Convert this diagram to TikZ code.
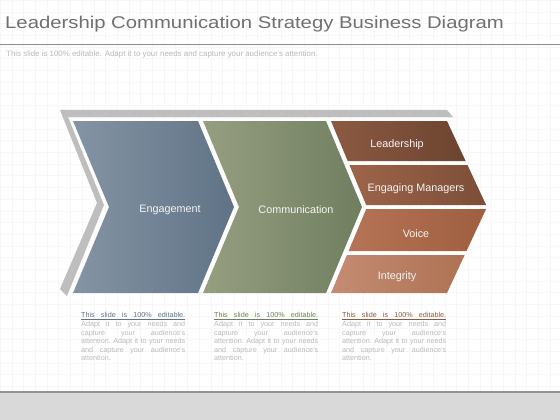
\documentclass[tikz,border=0pt]{standalone}
\usepackage{fontspec}
\setmainfont{Liberation Sans}
\usepackage{tikz}
\usetikzlibrary{positioning}

\definecolor{titleGray}{RGB}{112,112,112}
\definecolor{noteGray}{RGB}{185,185,185}
\definecolor{frameGray}{RGB}{190,190,190}
\definecolor{bandGray}{RGB}{217,217,217}
\definecolor{engageL}{RGB}{132,148,164}
\definecolor{engageR}{RGB}{96,115,134}
\definecolor{commL}{RGB}{150,158,128}
\definecolor{commR}{RGB}{112,126,96}
\definecolor{leadL}{RGB}{140,90,65}
\definecolor{leadR}{RGB}{108,68,48}
\definecolor{mgrL}{RGB}{158,100,74}
\definecolor{mgrR}{RGB}{124,78,55}
\definecolor{voiceL}{RGB}{182,116,86}
\definecolor{voiceR}{RGB}{158,94,64}
\definecolor{integL}{RGB}{196,140,115}
\definecolor{integR}{RGB}{174,114,84}

\tikzset{
  label/.style={text=white!92!gray, font=\fontsize{10.8}{12}\selectfont},
  note/.style={anchor=north west, text width=104pt, align=justify, inner sep=0pt,
    text=noteGray, font=\fontsize{7.2}{8.6}\selectfont\frenchspacing}
}

\newcommand{\notehead}[1]{{\color{#1}\underline{\hbox to 104pt{This\hfill slide\hfill is\hfill 100\%\hfill editable.}}}}
\newcommand{\notebody}{Adapt it to your needs and\linebreak capture your audience's\linebreak attention. Adapt it to your needs\linebreak and capture your audience's\linebreak attention.}

\begin{document}
\begin{tikzpicture}[x=1pt,y=-1pt]
\useasboundingbox (0,0) rectangle (560,420);
\fill[white] (0,0) rectangle (560,420);
\draw[step=11.7pt,black!3,very thin] (0,0) grid (560,392);

% heading
\node[anchor=base west, inner sep=0pt, text=titleGray] (title) at (5,28.5)
  {\scalebox{1.194}[1]{\fontsize{17}{20}\selectfont Leadership Communication Strategy Business Diagram}};
\draw[gray!90, line width=1.2pt] (0,44.5) -- (560,44.5);
\node[anchor=base west, inner sep=0pt, text=noteGray, font=\fontsize{7.9}{9}\selectfont] (subtitle) at (6,56.5)
  {This slide is 100\% editable. Adapt it to your needs and capture your audience's attention.};

% footer
\fill[bandGray] (0,393) rectangle (560,420);
\draw[gray!85, line width=1.5pt] (0,392) -- (560,392);

% grey back frame
\fill[frameGray] (60,110) -- (447,110) -- (453,117) -- (68,117) -- (104,205) -- (67,296)
  -- (60,289) -- (97,203) -- cycle;

% big chevrons
\shade[left color=engageL, right color=engageR] (73,121) -- (198,121) -- (234,207) -- (198,293)
  -- (73,293) -- (109,207) -- cycle;
\shade[left color=commL, right color=commR] (203,121) -- (326,121) -- (362,207) -- (326,293)
  -- (203,293) -- (239,207) -- cycle;

% right strips
\shade[left color=leadL, right color=leadR] (331,121) -- (447,121) -- (465.6,161) -- (347.7,161) -- cycle;
\shade[left color=mgrL, right color=mgrR] (349.4,165) -- (467.5,165) -- (486.1,205) -- (366.2,205) -- cycle;
\shade[left color=voiceL, right color=voiceR] (366.2,209) -- (486.1,209) -- (466.5,251) -- (348.6,251) -- cycle;
\shade[left color=integL, right color=integR] (346.9,255) -- (464.7,255) -- (447,293) -- (331,293) -- cycle;

\node[label] (engage) at (170,209.5) {Engagement};
\node[label] (comm) at (296,209.5) {Communication};
\node[label] (lead) at (397,144.5) {Leadership};
\node[label] (mgr) at (416,188.5) {Engaging Managers};
\node[label] (voice) at (416,233.5) {Voice};
\node[label] (integ) at (397,276.5) {Integrity};

% notes under the chevrons
\node[note] (note1) at (81,312.5) {\notehead{engageR}\par\notebody};
\node[note] (note2) at (214,312.5) {\notehead{commR}\par\notebody};
\node[note] (note3) at (342,312.5) {\notehead{leadL}\par\notebody};

\end{tikzpicture}
\end{document}
